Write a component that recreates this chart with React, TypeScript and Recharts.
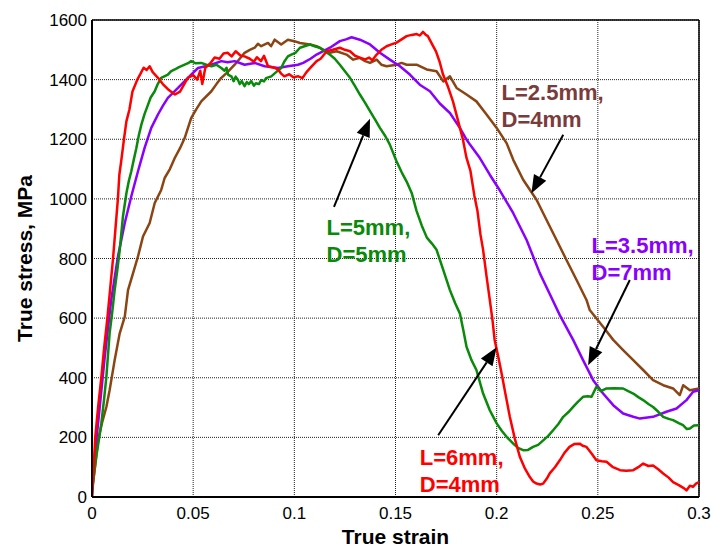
import {
  CartesianGrid,
  Line,
  LineChart,
  ReferenceDot,
  ReferenceLine,
  XAxis,
  YAxis,
} from 'recharts'

const strainTicks = [0, 0.05, 0.1, 0.15, 0.2, 0.25, 0.3]
const stressTicks = [0, 200, 400, 600, 800, 1000, 1200, 1400, 1600]

// [true strain, true stress MPa]
const brownCurve = [
  [0, 0], [0.0005, 46], [0.003, 190], [0.005, 250], [0.0071, 302], [0.0087, 358], [0.0112, 459],
  [0.0137, 549], [0.0162, 605], [0.0178, 694], [0.0203, 751], [0.0227, 806], [0.0252, 874],
  [0.0285, 919], [0.031, 986], [0.0342, 1030], [0.0359, 1070], [0.0385, 1100], [0.0409, 1137],
  [0.0435, 1170], [0.0458, 1204], [0.049, 1271], [0.0515, 1300], [0.054, 1327], [0.059, 1361],
  [0.0615, 1385], [0.0639, 1406], [0.067, 1425], [0.0705, 1450], [0.073, 1470], [0.0754, 1490],
  [0.078, 1500], [0.0804, 1507], [0.082, 1520], [0.0836, 1512], [0.087, 1523], [0.0885, 1512],
  [0.0903, 1534], [0.0935, 1518], [0.0968, 1534], [0.1, 1529], [0.1028, 1523], [0.1077, 1518],
  [0.111, 1512], [0.1143, 1501], [0.1175, 1490], [0.1209, 1495], [0.1258, 1484], [0.1291, 1467],
  [0.1324, 1473], [0.135, 1462], [0.1374, 1456], [0.1407, 1467], [0.143, 1450], [0.1456, 1445],
  [0.1505, 1450], [0.153, 1456], [0.1555, 1450], [0.1604, 1450], [0.1654, 1434], [0.1703, 1428],
  [0.1736, 1394], [0.1769, 1411], [0.1802, 1372], [0.1851, 1350], [0.19, 1327], [0.195, 1283],
  [0.2, 1238], [0.2049, 1187], [0.2082, 1131], [0.2131, 1064], [0.2197, 997], [0.2246, 930],
  [0.2296, 862], [0.2345, 795], [0.2395, 728], [0.2444, 661], [0.246, 627], [0.2526, 571],
  [0.2576, 527], [0.2625, 493], [0.2675, 459], [0.2724, 426], [0.2773, 392], [0.2823, 375],
  [0.2872, 364], [0.2905, 342], [0.2922, 375], [0.2955, 358], [0.3, 364],
]

const purpleCurve = [
  [0, 56], [0.003, 246], [0.0063, 470], [0.0095, 661], [0.0128, 806], [0.0162, 919], [0.0194, 1008],
  [0.0227, 1092], [0.026, 1171], [0.0293, 1238], [0.0326, 1283], [0.035, 1312], [0.0375, 1339],
  [0.0425, 1372], [0.0474, 1406], [0.0524, 1439], [0.056, 1445], [0.059, 1450], [0.0639, 1462],
  [0.067, 1458], [0.0705, 1462], [0.0754, 1450], [0.0804, 1456], [0.0853, 1445], [0.0885, 1442],
  [0.0919, 1439], [0.0968, 1445], [0.1018, 1450], [0.1044, 1456], [0.108, 1470], [0.111, 1484],
  [0.1176, 1507], [0.1225, 1529], [0.1255, 1535], [0.1283, 1542], [0.1324, 1534], [0.1374, 1518],
  [0.1423, 1490], [0.1472, 1467], [0.1522, 1445], [0.1571, 1417], [0.162, 1383], [0.167, 1361],
  [0.1719, 1320], [0.1769, 1288], [0.1818, 1238], [0.1851, 1199], [0.1868, 1182], [0.1917, 1137],
  [0.1966, 1081], [0.2016, 1028], [0.2082, 952], [0.2148, 862], [0.2213, 751], [0.2263, 680],
  [0.2312, 610], [0.2378, 527], [0.2427, 459], [0.2477, 392], [0.2526, 347], [0.2576, 308],
  [0.2625, 280], [0.2675, 269], [0.2708, 263], [0.2773, 269], [0.2839, 286], [0.2889, 297],
  [0.2938, 325], [0.2971, 353], [0.3, 358],
]

const greenCurve = [
  [0, 22], [0.0021, 134], [0.0046, 246], [0.006, 330], [0.0071, 403], [0.0087, 549], [0.01, 620],
  [0.0112, 694], [0.0125, 760], [0.0137, 829], [0.0153, 941], [0.017, 1019], [0.0182, 1060],
  [0.0194, 1092], [0.0206, 1130], [0.0219, 1170], [0.0232, 1215], [0.0244, 1249], [0.026, 1285],
  [0.0277, 1316], [0.029, 1340], [0.031, 1361], [0.0325, 1385], [0.0342, 1406], [0.036, 1412],
  [0.0375, 1417], [0.039, 1428], [0.0409, 1434], [0.043, 1442], [0.0458, 1450], [0.0475, 1455],
  [0.049, 1462], [0.051, 1455], [0.054, 1456], [0.0565, 1450], [0.059, 1445], [0.0615, 1450],
  [0.0639, 1439], [0.0655, 1430], [0.0665, 1440], [0.0672, 1417], [0.069, 1410], [0.07, 1395],
  [0.071, 1410], [0.0721, 1400], [0.073, 1385], [0.074, 1395], [0.0754, 1378], [0.0765, 1392],
  [0.0775, 1385], [0.0787, 1395], [0.08, 1380], [0.081, 1388], [0.0825, 1385], [0.0836, 1398],
  [0.085, 1394], [0.086, 1405], [0.0886, 1411], [0.091, 1425], [0.0935, 1439], [0.095, 1460],
  [0.0968, 1478], [0.0985, 1484], [0.1005, 1490], [0.1028, 1507], [0.105, 1512], [0.1077, 1518],
  [0.11, 1512], [0.1126, 1507], [0.115, 1495], [0.1176, 1484], [0.12, 1470], [0.1225, 1450],
  [0.125, 1428], [0.1275, 1406], [0.13, 1378], [0.1324, 1350], [0.135, 1322], [0.1374, 1294],
  [0.14, 1265], [0.1423, 1238], [0.145, 1210], [0.1472, 1182], [0.1505, 1126], [0.153, 1090],
  [0.1555, 1058], [0.158, 1020], [0.1604, 960], [0.163, 910], [0.1655, 870], [0.168, 850],
  [0.1703, 829], [0.1736, 762], [0.1769, 694], [0.1795, 650], [0.1818, 616], [0.1835, 560],
  [0.1851, 504], [0.1875, 460], [0.19, 426], [0.1933, 347], [0.1966, 291], [0.2, 247],
  [0.2025, 222], [0.2049, 202], [0.2082, 179], [0.2105, 165], [0.2131, 157], [0.2155, 158],
  [0.218, 168], [0.2205, 175], [0.223, 190], [0.2255, 205], [0.2279, 224], [0.2305, 245],
  [0.2329, 269], [0.2355, 285], [0.2378, 302], [0.24, 318], [0.2427, 336], [0.245, 338],
  [0.2469, 336], [0.2493, 370], [0.2515, 355], [0.2543, 364], [0.258, 365], [0.2625, 364],
  [0.265, 355], [0.2675, 347], [0.27, 335], [0.2724, 325], [0.275, 312], [0.2773, 302],
  [0.28, 285], [0.2823, 269], [0.285, 262], [0.2872, 258], [0.29, 248], [0.2921, 241],
  [0.294, 228], [0.2955, 230], [0.2975, 240], [0.3, 241],
]

const redCurve = [
  [0, 0], [0.0008, 90], [0.0016, 200], [0.003, 300], [0.0046, 400], [0.006, 500], [0.0076, 600],
  [0.009, 700], [0.0104, 800], [0.0116, 900], [0.0128, 1000], [0.0135, 1080], [0.0145, 1130],
  [0.0158, 1200], [0.017, 1260], [0.0185, 1300], [0.02, 1360], [0.0224, 1400], [0.024, 1420],
  [0.0255, 1440], [0.027, 1432], [0.0285, 1445], [0.03, 1425], [0.0326, 1406], [0.035, 1385],
  [0.038, 1365], [0.041, 1350], [0.0435, 1360], [0.046, 1390], [0.0474, 1406], [0.05, 1415],
  [0.052, 1400], [0.0535, 1430], [0.0545, 1385], [0.056, 1440], [0.0585, 1455], [0.0606, 1474],
  [0.063, 1470], [0.065, 1488], [0.067, 1490], [0.069, 1478], [0.071, 1495], [0.0735, 1480],
  [0.0754, 1478], [0.078, 1470], [0.08, 1460], [0.0815, 1475], [0.0835, 1462], [0.085, 1480],
  [0.087, 1445], [0.09, 1440], [0.092, 1434], [0.0935, 1420], [0.095, 1411], [0.0975, 1418],
  [0.0995, 1408], [0.102, 1411], [0.104, 1405], [0.106, 1425], [0.108, 1440], [0.111, 1462],
  [0.113, 1470], [0.116, 1495], [0.119, 1500], [0.1225, 1507], [0.125, 1500], [0.1275, 1495],
  [0.13, 1480], [0.1324, 1474], [0.135, 1468], [0.137, 1474], [0.1385, 1465], [0.1407, 1484],
  [0.143, 1500], [0.1456, 1512], [0.148, 1518], [0.1505, 1524], [0.153, 1535], [0.1555, 1546],
  [0.158, 1550], [0.1605, 1553], [0.162, 1548], [0.1636, 1560], [0.165, 1550], [0.166, 1546],
  [0.168, 1520], [0.17, 1495], [0.1718, 1460], [0.1735, 1417], [0.176, 1375], [0.1784, 1327],
  [0.181, 1260], [0.1833, 1200], [0.185, 1140], [0.187, 1095], [0.189, 1010], [0.1905, 960],
  [0.192, 880], [0.1933, 829], [0.195, 740], [0.1966, 661], [0.198, 590], [0.199, 527],
  [0.2008, 470], [0.2024, 416], [0.2045, 340], [0.2065, 269], [0.209, 195], [0.2115, 134],
  [0.214, 95], [0.2164, 67], [0.218, 52], [0.2197, 45], [0.2215, 42], [0.223, 45], [0.2248, 62],
  [0.2263, 80], [0.2288, 100], [0.2312, 123], [0.2335, 148], [0.236, 168], [0.2385, 178],
  [0.241, 179], [0.2425, 172], [0.2444, 168], [0.247, 145], [0.2493, 123], [0.252, 120],
  [0.2543, 118], [0.2575, 100], [0.261, 90], [0.264, 88], [0.2675, 90], [0.27, 100], [0.2724, 112],
  [0.275, 104], [0.2773, 106], [0.28, 92], [0.2823, 79], [0.285, 65], [0.2872, 50], [0.29, 40],
  [0.2925, 30], [0.2938, 22], [0.2955, 38], [0.297, 34], [0.2985, 45], [0.3, 50],
]

// annotation text lines, text anchor and arrow (tail -> tip), in data units
const brownNote = { lines: ['L=2.5mm,', 'D=4mm'], at: [0.2024, 1333], from: [0.2329, 1215], to: [0.2172, 1019] }
const purpleNote = { lines: ['L=3.5mm,', 'D=7mm'], at: [0.2469, 818], from: [0.2658, 728], to: [0.2452, 442] }
const greenNote = { lines: ['L=5mm,', 'D=5mm'], at: [0.1159, 879], from: [0.1196, 973], to: [0.1374, 1269] }
const redNote = { lines: ['L=6mm,', 'D=4mm'], at: [0.162, 106], from: [0.1711, 207], to: [0.2, 502] }

const FONT = '"Liberation Sans", Arial, Helvetica, sans-serif'

const toRows = (pts: number[][]) => pts.map(([x, y]) => ({ x, y }))

const series = [
  { name: 'brown', color: '#8b4513', data: toRows(brownCurve) },
  { name: 'purple', color: '#8a00ff', data: toRows(purpleCurve) },
  { name: 'green', color: '#0a8a0a', data: toRows(greenCurve) },
  { name: 'red', color: '#ff0000', data: toRows(redCurve) },
]

const notes = [
  { ...brownNote, color: '#7b3b3b' },
  { ...purpleNote, color: '#8a00ff' },
  { ...greenNote, color: '#0a8a0a' },
  { ...redNote, color: '#ff0000' },
]

function Arrow(props: any) {
  const { x1, y1, x2, y2 } = props
  const dx = x2 - x1
  const dy = y2 - y1
  const len = Math.hypot(dx, dy) || 1
  const ux = dx / len
  const uy = dy / len
  const head = 18
  const half = 7
  const bx = x2 - ux * head
  const by = y2 - uy * head
  const pts = `${x2},${y2} ${bx - uy * half},${by + ux * half} ${bx + uy * half},${by - ux * half}`
  return (
    <g>
      <line x1={x1} y1={y1} x2={bx} y2={by} stroke="#000" strokeWidth={2} />
      <polygon points={pts} fill="#000" />
    </g>
  )
}

export default function App() {
  return (
    <div style={{ position: 'absolute', left: 0, top: 0, background: '#fff' }}>
      <LineChart
        width={711}
        height={548}
        margin={{ top: 20, right: 12, left: 0, bottom: 0 }}
        style={{ fontFamily: FONT }}
      >
        <CartesianGrid stroke="#222" strokeDasharray="1 1" />
        <XAxis
          dataKey="x"
          type="number"
          domain={[0, 0.3]}
          ticks={strainTicks}
          tickFormatter={(v) => String(v)}
          allowDataOverflow
          height={51}
          tickLine={false}
          tickSize={0}
          tickMargin={10}
          tick={{ fill: '#000', fontSize: 17 }}
          axisLine={{ stroke: '#000', strokeWidth: 2 }}
          label={{
            value: 'True strain',
            position: 'insideBottom',
            offset: 4,
            style: { fill: '#000', fontSize: 21, fontWeight: 'bold' },
          }}
        />
        <YAxis
          dataKey="y"
          type="number"
          domain={[0, 1600]}
          ticks={stressTicks}
          allowDataOverflow
          width={92}
          tickLine={false}
          tickSize={0}
          tickMargin={5}
          tick={{ fill: '#000', fontSize: 17 }}
          axisLine={{ stroke: '#000', strokeWidth: 2 }}
          label={{
            value: 'True stress, MPa',
            angle: -90,
            position: 'insideLeft',
            offset: 25,
            style: { fill: '#000', fontSize: 21, fontWeight: 'bold', textAnchor: 'middle' },
          }}
        />
        <ReferenceLine y={1600} stroke="#000" strokeWidth={1.5} />
        <ReferenceLine x={0.3} stroke="#000" strokeWidth={1.5} />
        {series.map((s) => (
          <Line
            key={s.name}
            data={s.data}
            dataKey="y"
            type="linear"
            stroke={s.color}
            strokeWidth={2.5}
            strokeLinejoin="round"
            dot={false}
            isAnimationActive={false}
          />
        ))}
        {notes.map((n, i) => (
          <ReferenceLine
            key={`arrow-${i}`}
            segment={[
              { x: n.from[0], y: n.from[1] },
              { x: n.to[0], y: n.to[1] },
            ]}
            shape={Arrow}
          />
        ))}
        {notes.map((n, i) => (
          <ReferenceDot
            key={`note-${i}`}
            x={n.at[0]}
            y={n.at[1]}
            r={0}
            shape={(p: any) => (
              <text
                x={p.cx}
                y={p.cy}
                fill={n.color}
                fontSize={22}
                fontWeight="bold"
                fontFamily={FONT}
              >
                {n.lines.map((t, j) => (
                  <tspan key={j} x={p.cx} dy={j === 0 ? 0 : 27}>
                    {t}
                  </tspan>
                ))}
              </text>
            )}
          />
        ))}
      </LineChart>
    </div>
  )
}
